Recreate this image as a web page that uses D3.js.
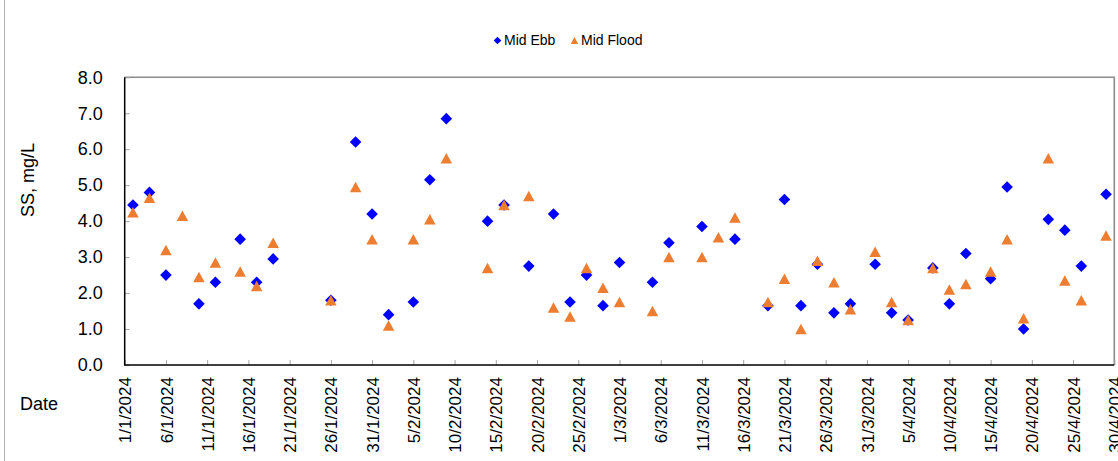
<!DOCTYPE html>
<html>
<head>
<meta charset="utf-8">
<script src="https://cdn.jsdelivr.net/npm/d3@7"></script>
<style>
    body { margin: 0; background: #fff; }
    text { font-family: Arial, "Liberation Sans", sans-serif; fill: #000; }
</style>
</head>
<body>
<div id="chart"></div>
<script>
// sampling dates (dd/mm/yyyy)
var sampleDates = ["2/1/2024", "4/1/2024", "6/1/2024", "8/1/2024", "10/1/2024", "12/1/2024", "15/1/2024",
    "17/1/2024", "19/1/2024", "26/1/2024", "29/1/2024", "31/1/2024", "2/2/2024", "5/2/2024", "7/2/2024",
    "9/2/2024", "14/2/2024", "16/2/2024", "19/2/2024", "22/2/2024", "24/2/2024", "26/2/2024", "28/2/2024",
    "1/3/2024", "5/3/2024", "7/3/2024", "11/3/2024", "13/3/2024", "15/3/2024", "19/3/2024", "21/3/2024",
    "23/3/2024", "25/3/2024", "27/3/2024", "29/3/2024", "1/4/2024", "3/4/2024", "5/4/2024", "8/4/2024",
    "10/4/2024", "12/4/2024", "15/4/2024", "17/4/2024", "19/4/2024", "22/4/2024", "24/4/2024", "26/4/2024",
    "29/4/2024"];

// SS, mg/L
var midEbb = [4.45, 4.8, 2.5, null, 1.7, 2.3, 3.5,
    2.3, 2.95, 1.8, 6.2, 4.2, 1.4, 1.75, 5.15,
    6.85, 4.0, 4.45, 2.75, 4.2, 1.75, 2.5, 1.65,
    2.85, 2.3, 3.4, 3.85, null, 3.5, 1.65, 4.6,
    1.65, 2.8, 1.45, 1.7, 2.8, 1.45, 1.25, 2.7,
    1.7, 3.1, 2.4, 4.95, 1.0, 4.05, 3.75, 2.75,
    4.75];

var midFlood = [4.25, 4.65, 3.2, 4.15, 2.45, 2.85, 2.6,
    2.2, 3.4, 1.8, 4.95, 3.5, 1.1, 3.5, 4.05,
    5.75, 2.7, 4.45, 4.7, 1.6, 1.35, 2.7, 2.15,
    1.75, 1.5, 3.0, 3.0, 3.55, 4.1, 1.75, 2.4,
    1.0, 2.9, 2.3, 1.55, 3.15, 1.75, 1.25, 2.7,
    2.1, 2.25, 2.6, 3.5, 1.3, 5.75, 2.35, 1.8,
    3.6];

var yTicks = [0, 1, 2, 3, 4, 5, 6, 7, 8];
var seriesNames = ["Mid Ebb", "Mid Flood"];
var seriesColors = ["#0000FF", "#ED7D31"];

var width = 1118, height = 461;
var margin = { top: 77.3, right: 3.7, bottom: 96, left: 124.7 };
var plotW = width - margin.left - margin.right;
var plotH = height - margin.top - margin.bottom;

var parseDate = d3.timeParse("%d/%m/%Y");
var fmtDate = d3.timeFormat("%-d/%-m/%Y");
var startDate = parseDate("1/1/2024"), endDate = parseDate("30/4/2024");

var svg = d3.select("#chart").append("svg")
    .attr("width", width)
    .attr("height", height);

// chart area frame (only the left edge is inside the picture)
svg.append("line")
    .attr("x1", 4.5).attr("x2", 4.5)
    .attr("y1", 0).attr("y2", height)
    .attr("stroke", "#b0b0b0").attr("stroke-width", 1);

var g = svg.append("g")
    .attr("transform", "translate(" + margin.left + "," + margin.top + ")");

var xScale = d3.scaleTime()
    .domain([startDate, endDate])
    .range([0, plotW]);

var yScale = d3.scaleLinear()
    .domain([0, 8])
    .range([plotH, 0]);

// plot area border (top/right grey)
g.append("path")
    .attr("d", "M0,0H" + plotW + "V" + plotH)
    .attr("fill", "none")
    .attr("stroke", "#8c8c8c")
    .attr("stroke-width", 1.6);

// x axis: one tick every five days
var xTicks = d3.timeDay.range(startDate, d3.timeDay.offset(endDate, 1), 5);
var xAxis = g.append("g")
    .attr("transform", "translate(0," + plotH + ")")
    .call(d3.axisBottom(xScale).tickValues(xTicks).tickSize(-5).tickFormat(fmtDate));
xAxis.select(".domain").remove();
xAxis.selectAll(".tick line").attr("stroke", "#a6a6a6");
xAxis.selectAll(".tick text")
    .attr("transform", "rotate(-90)")
    .attr("text-anchor", "end")
    .attr("x", -12)
    .attr("y", 0)
    .attr("dy", "0.36em")
    .style("font-size", "17px")
    .style("font-family", "Arial, 'Liberation Sans', sans-serif");

// y axis
var yAxis = g.append("g")
    .call(d3.axisLeft(yScale).tickValues(yTicks).tickSize(-5).tickPadding(22).tickFormat(d3.format(".1f")));
yAxis.select(".domain").remove();
yAxis.selectAll(".tick line").attr("stroke", "#a6a6a6");
yAxis.selectAll(".tick text")
    .style("font-size", "18px")
    .style("font-family", "Arial, 'Liberation Sans', sans-serif");

// black axis lines
g.append("path")
    .attr("d", "M0,0V" + plotH + "H" + plotW)
    .attr("fill", "none")
    .attr("stroke", "#000")
    .attr("stroke-width", 1.5);

// axis titles
svg.append("text")
    .attr("transform", "translate(34,180) rotate(-90)")
    .attr("text-anchor", "middle")
    .style("font-size", "18px")
    .text("SS, mg/L");

svg.append("text")
    .attr("x", 20)
    .attr("y", 410)
    .style("font-size", "18px")
    .text("Date");

// marker shapes
function diamond(r) {
    return "M0," + (-r) + "L" + r + ",0L0," + r + "L" + (-r) + ",0Z";
}
function triangle(w, h) {
    return "M0," + (-h / 2) + "L" + (w / 2) + "," + (h / 2) + "L" + (-w / 2) + "," + (h / 2) + "Z";
}

var rows = sampleDates.map(function (d, i) {
    return { date: parseDate(d), ebb: midEbb[i], flood: midFlood[i] };
});

// Mid Ebb diamonds
g.selectAll(".ebb")
    .data(rows.filter(function (d) { return d.ebb != null; }))
    .enter().append("path")
    .attr("class", "ebb")
    .attr("d", diamond(5.8))
    .attr("fill", seriesColors[0])
    .attr("transform", function (d) {
        return "translate(" + xScale(d.date) + "," + yScale(d.ebb) + ")";
    });

// Mid Flood triangles
g.selectAll(".flood")
    .data(rows.filter(function (d) { return d.flood != null; }))
    .enter().append("path")
    .attr("class", "flood")
    .attr("d", triangle(11.5, 10.5))
    .attr("fill", seriesColors[1])
    .attr("transform", function (d) {
        return "translate(" + xScale(d.date) + "," + yScale(d.flood) + ")";
    });

// legend
var legendPos = [{ mx: 497.5, tx: 504 }, { mx: 574.5, tx: 581 }];
var legend = svg.selectAll(".legend")
    .data(seriesNames)
    .enter().append("g")
    .attr("class", "legend");
legend.append("path")
    .attr("d", function (d, i) { return i == 0 ? diamond(3.8) : triangle(7.5, 7); })
    .attr("fill", function (d, i) { return seriesColors[i]; })
    .attr("transform", function (d, i) { return "translate(" + legendPos[i].mx + ",40.5)"; });
legend.append("text")
    .attr("x", function (d, i) { return legendPos[i].tx; })
    .attr("y", 40.5)
    .attr("dy", "0.35em")
    .style("font-size", "14px")
    .text(function (d) { return d; });
</script>
</body>
</html>
